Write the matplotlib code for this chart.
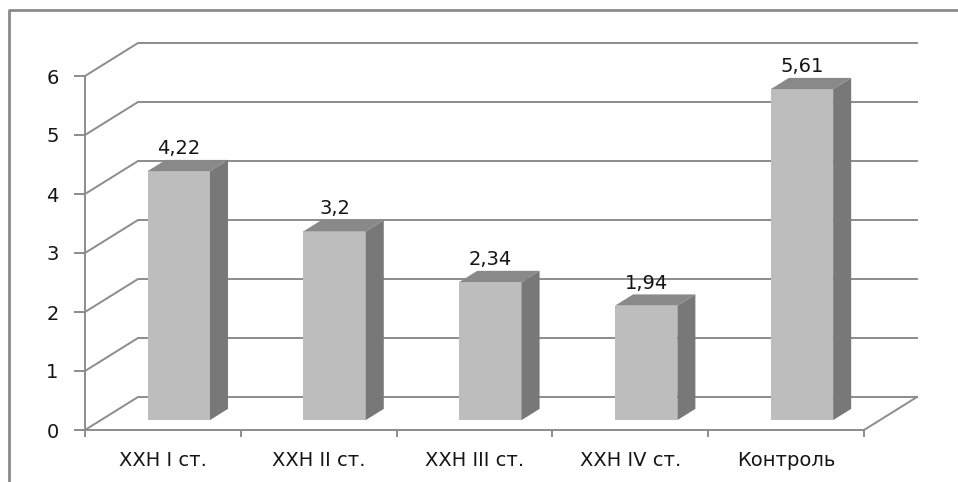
import matplotlib
matplotlib.use("Agg")
import matplotlib.pyplot as plt
from matplotlib.patches import Polygon
from matplotlib.lines import Line2D

# Data
categories = ["ХХН I ст.", "ХХН II ст.", "ХХН III ст.", "ХХН IV ст.", "Контроль"]
values = [4.22, 3.2, 2.34, 1.94, 5.61]
y_ticks = [0, 1, 2, 3, 4, 5, 6]
value_labels = ["4,22", "3,2", "2,34", "1,94", "5,61"]

plt.rcParams["font.family"] = ["DejaVu Sans"]
FS = 14
TXT = "#151515"

W, H = 958, 482
fig = plt.figure(figsize=(W / 100, H / 100), dpi=100)
fig.patch.set_facecolor("white")

# front plane of the plot in pixel positions
left_px, right_px, bottom_px, top_px = 85, 864, 430, 76
ax = fig.add_axes([left_px / W, 1 - bottom_px / H,
                   (right_px - left_px) / W, (bottom_px - top_px) / H])
n = len(categories)
ymax = y_ticks[-1]
ax.set_xlim(0, n)
ax.set_ylim(0, ymax)
ax.set_facecolor("none")

# 3D depth projection, expressed in data units
px_x = (right_px - left_px) / n        # pixels per category
px_y = (bottom_px - top_px) / ymax     # pixels per value unit
DX, DY = 53 / px_x, 33 / px_y          # full depth of the floor / wall

grid_c = "#8c8c8c"
lw = 1.4

# back wall gridlines with connecting diagonals from the front axis
for t in y_ticks:
    ax.add_line(Line2D([0, DX, n + DX], [t, t + DY, t + DY],
                       color=grid_c, lw=lw, clip_on=False, zorder=1))
# floor: right edge
ax.add_line(Line2D([n, n + DX], [0, DY], color=grid_c, lw=lw,
                   clip_on=False, zorder=1))

# bars
bar_w = 0.4
f0 = 0.30      # depth at which the front face sits
fd = 0.34      # depth of each bar
front_c, top_c, side_c = "#bdbdbd", "#898989", "#787878"
for i, v in enumerate(values):
    cx = i + 0.5 + f0 * DX
    x0, x1 = cx - bar_w / 2, cx + bar_w / 2
    y0 = f0 * DY
    y1 = y0 + v
    ddx, ddy = fd * DX, fd * DY
    ax.bar(cx, v, width=bar_w, bottom=y0, color=front_c,
           edgecolor="none", zorder=3, clip_on=False)
    ax.add_patch(Polygon([(x1, y0), (x1 + ddx, y0 + ddy), (x1 + ddx, y1 + ddy),
                          (x1, y1)], closed=True, facecolor=side_c,
                         edgecolor="none", zorder=3, clip_on=False))
    ax.add_patch(Polygon([(x0, y1), (x0 + ddx, y1 + ddy), (x1 + ddx, y1 + ddy),
                          (x1, y1)], closed=True, facecolor=top_c,
                         edgecolor="none", zorder=3, clip_on=False))
    ax.text(cx, y1 + ddy + 0.03, value_labels[i], ha="center", va="bottom",
            fontsize=FS, color=TXT, zorder=4, clip_on=False)

# axes
for s in ["top", "right"]:
    ax.spines[s].set_visible(False)
for s in ["left", "bottom"]:
    ax.spines[s].set_color(grid_c)
    ax.spines[s].set_linewidth(lw)
    ax.spines[s].set_zorder(2)

ax.set_yticks(y_ticks)
ax.set_yticklabels([str(t) for t in y_ticks], fontsize=FS, color=TXT)
ax.tick_params(axis="y", direction="out", length=8, width=lw, color=grid_c, pad=11)

ax.set_xticks(range(n + 1))
ax.set_xticklabels([])
ax.tick_params(axis="x", which="major", direction="out", length=5, width=lw,
               color=grid_c)
ax.set_xticks([i + 0.5 for i in range(n)], minor=True)
ax.set_xticklabels(categories, minor=True, fontsize=FS, color=TXT)
ax.tick_params(axis="x", which="minor", length=0, pad=15)

# chart area border (left and top edges)
fig.add_artist(Line2D([9 / W, 9 / W, 1.0], [0.0, 1 - 10 / H, 1 - 10 / H],
                      transform=fig.transFigure, color="#8a8a8a", lw=2))

fig.savefig("out.png", dpi=100, facecolor="white")
